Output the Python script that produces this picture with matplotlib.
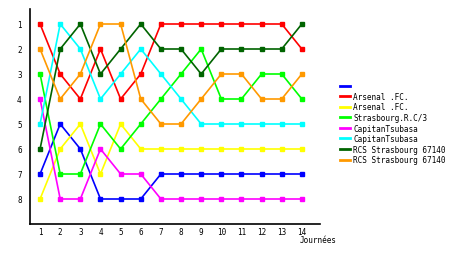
import matplotlib
matplotlib.use("Agg")
import matplotlib.pyplot as plt

journees = list(range(1, 15))
labels = [" ", "Arsenal .FC.", "Arsenal .FC.", "Strasbourg.R.C/3", "CapitanTsubasa",
          "CapitanTsubasa", "RCS Strasbourg 67140", "RCS Strasbourg 67140"]
colors = ["#0000ff", "#ff0000", "#ffff00", "#00ff00", "#ff00ff", "#00ffff", "#006400", "#ff9900"]

blue = [7, 5, 6, 8, 8, 8, 7, 7, 7, 7, 7, 7, 7, 7]
red = [1, 3, 4, 2, 4, 3, 1, 1, 1, 1, 1, 1, 1, 2]
yellow = [8, 6, 5, 7, 5, 6, 6, 6, 6, 6, 6, 6, 6, 6]
green = [3, 7, 7, 5, 6, 5, 4, 3, 2, 4, 4, 3, 3, 4]
magenta = [4, 8, 8, 6, 7, 7, 8, 8, 8, 8, 8, 8, 8, 8]
cyan = [5, 1, 2, 4, 3, 2, 3, 4, 5, 5, 5, 5, 5, 5]
darkgreen = [6, 2, 1, 3, 2, 1, 2, 2, 3, 2, 2, 2, 2, 1]
orange = [2, 4, 3, 1, 1, 4, 5, 5, 4, 3, 3, 4, 4, 3]
series = [blue, red, yellow, green, magenta, cyan, darkgreen, orange]

fig = plt.figure(figsize=(4.6, 2.55), dpi=100)
ax = fig.add_axes([30 / 460, 30 / 255, 290 / 460, 215 / 255])
for s, c, l in zip(series, colors, labels):
    ax.plot(journees, s, color=c, lw=1.2, marker="s", ms=2.5, label=l)

ax.set_xlim(0.5, 14.9)
ax.set_ylim(9.0, 0.4)
ax.set_xticks(journees)
ax.set_yticks(range(1, 9))
ax.tick_params(length=0, labelsize=5.5, pad=2.5)
ax.tick_params(axis="y", pad=6)
for t in ax.get_xticklabels() + ax.get_yticklabels():
    t.set_family("DejaVu Sans Mono")
for sp in ["top", "right"]:
    ax.spines[sp].set_visible(False)
for sp in ["left", "bottom"]:
    ax.spines[sp].set_linewidth(1.2)
fig.text(300 / 460, 1 - 241 / 255, "Journées", fontsize=5.5, family="DejaVu Sans Mono", va="center")

leg = fig.legend(loc="upper left", bbox_to_anchor=(338 / 460, 1 - 80 / 255), frameon=False,
                 handlelength=1.3, handletextpad=0.35, labelspacing=0.2,
                 borderaxespad=0, borderpad=0.3,
                 prop={"family": "DejaVu Sans Mono", "size": 5.6})
for h in leg.legend_handles:
    h.set_marker("")
    h.set_linewidth(2)

fig.savefig("out.png", dpi=100)
